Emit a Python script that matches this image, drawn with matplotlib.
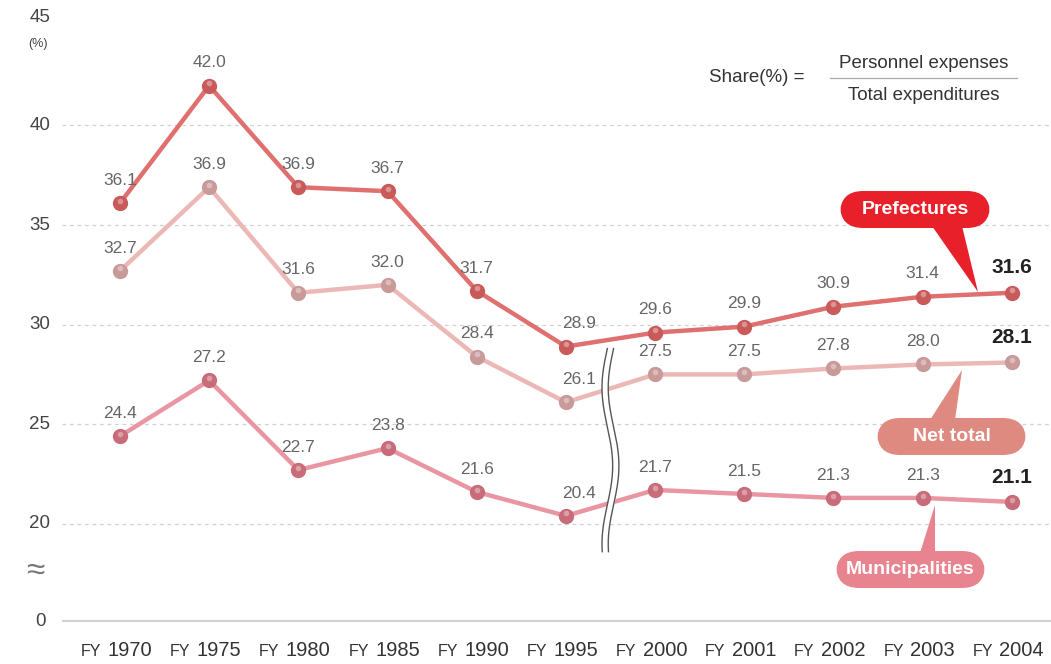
import numpy as np
import matplotlib
matplotlib.use("Agg")
import matplotlib.pyplot as plt
from matplotlib.patches import FancyBboxPatch, Polygon
import matplotlib.transforms as mtransforms

years = ["1970", "1975", "1980", "1985", "1990", "1995", "2000", "2001", "2002", "2003", "2004"]
prefectures = [36.1, 42.0, 36.9, 36.7, 31.7, 28.9, 29.6, 29.9, 30.9, 31.4, 31.6]
net_total = [32.7, 36.9, 31.6, 32.0, 28.4, 26.1, 27.5, 27.5, 27.8, 28.0, 28.1]
municipalities = [24.4, 27.2, 22.7, 23.8, 21.6, 20.4, 21.7, 21.5, 21.3, 21.3, 21.1]
ytick_values = [20, 25, 30, 35, 40, 45]

plt.rcParams['font.family'] = ['Liberation Sans', 'DejaVu Sans']

fig = plt.figure(figsize=(10.51, 6.64), dpi=100)
ax = fig.add_axes([62/1051, 42/664, 1 - 62/1051, 1 - 42/664])
x = np.arange(len(years))
ax.set_xlim(-0.65, 10.44)
y_bottom = 15.07
ax.set_ylim(y_bottom, 46.3)

for s in ax.spines.values():
    s.set_visible(False)
ax.axhline(y_bottom, color="#d2d2d2", lw=3, zorder=1)
for v in [20, 25, 30, 35, 40]:
    ax.axhline(v, color="#d0d0d0", lw=0.9, ls=(0, (3, 3)), zorder=0)
ax.set_xticks([])
ax.set_yticks([])

# y tick labels
ylab_tr = mtransforms.blended_transform_factory(fig.transFigure, ax.transData)
for v in ytick_values:
    yy = v + 0.4 if v == 45 else v
    fig.text(40/1051, yy, str(v), transform=ylab_tr, ha="center", va="center",
             fontsize=13.5, color="#444444")
fig.text(40/1051, y_bottom, "0", transform=ylab_tr, ha="center", va="center",
         fontsize=13.5, color="#444444")
fig.text(38/1051, 44.1, "(%)", transform=ylab_tr, ha="center", va="center",
         fontsize=9, color="#444444")
fig.text(35/1051, 17.6, "≈", transform=ylab_tr, ha="center", va="center",
         fontsize=24, color="#777777")

# x tick labels
xlab_tr = mtransforms.blended_transform_factory(ax.transData, fig.transFigure)
for i, yr in enumerate(years):
    fig.text(i - 0.21, 1 - 651/664, "FY", transform=xlab_tr, ha="right", va="center",
             fontsize=11.5, color="#333333")
    fig.text(i - 0.14, 1 - 651/664, yr, transform=xlab_tr, ha="left", va="center",
             fontsize=14.5, color="#333333")

series = [
    (prefectures, "#e07070", "#c95a5a"),
    (net_total, "#ecb8b6", "#c99a9a"),
    (municipalities, "#ea95a2", "#c96c7a"),
]
for vals, lc, mc in series:
    ax.plot(x, vals, color=lc, lw=3.2, zorder=3, solid_capstyle="round")
    ax.plot(x, vals, ls="none", marker="o", ms=10, mfc=mc, mec=mc, zorder=4)
    ax.plot(x, np.array(vals) + 0.12, ls="none", marker="o", ms=4,
            mfc="white", mec="none", alpha=0.35, zorder=5)
    for i, v in enumerate(vals):
        last = i == len(vals) - 1
        dx = 0.15 if i == 5 else 0.0
        ax.annotate(f"{v:.1f}", (x[i] + dx, v), xytext=(0, 11), textcoords="offset points",
                    ha="center", va="bottom",
                    fontsize=15 if last else 12.5,
                    fontweight="bold" if last else "normal",
                    color="#222222" if last else "#666666", zorder=6)

# wavy break
t = np.linspace(28.8, 18.6, 300)
wave = 0.06 * np.sin((t - 28.8) / 10.2 * 2.6 * np.pi)
ax.fill_betweenx(t, 5.5 + wave - 0.03, 5.5 + wave + 0.03, color="white", zorder=6.5)
for off in (-0.035, 0.035):
    ax.plot(5.5 + wave + off, t, color="#555555", lw=1.0, zorder=7)

# formula
fig.text(757/1051, 1 - 78/664, "Share(%) =", ha="center", va="center", fontsize=13.5, color="#333333")
fig.text(924/1051, 1 - 64/664, "Personnel expenses", ha="center", va="center", fontsize=13.5, color="#333333")
fig.text(924/1051, 1 - 96/664, "Total expenditures", ha="center", va="center", fontsize=13.5, color="#333333")
fig.add_artist(plt.Line2D([830/1051, 1017/1051], [1 - 78/664, 1 - 78/664], color="#aaaaaa", lw=0.9))

# callouts (pixel coordinates from top-left)
def px(xp, yp):
    return (xp / 1051, 1 - yp / 664)

def callout(text, box, tail, color):
    x0, y0, x1, y1 = box
    w = (x1 - x0) / 1051
    h = (y1 - y0) / 664
    bx, by = px(x0, y1)
    fig.add_artist(FancyBboxPatch((bx, by), w, h,
                                  boxstyle="round,pad=0,rounding_size=0.022",
                                  transform=fig.transFigure, fc=color, ec="none",
                                  mutation_aspect=1051/664, zorder=8))
    fig.add_artist(Polygon([px(*p) for p in tail], closed=True, transform=fig.transFigure,
                           fc=color, ec="none", zorder=8))
    cx, cy = px((x0 + x1) / 2, (y0 + y1) / 2)
    fig.text(cx, cy, text, ha="center", va="center", color="white", fontsize=14,
             fontweight="bold", zorder=9)

callout("Prefectures", (840, 191, 990, 228), [(932, 226), (962, 226), (978, 292)], "#e8202a")
callout("Net total", (877, 418, 1026, 455), [(930, 420), (955, 420), (962, 370)], "#df8a80")
callout("Municipalities", (836, 551, 985, 588), [(920, 553), (935, 553), (935, 505)], "#e8848f")

fig.savefig("out.png", dpi=100)
